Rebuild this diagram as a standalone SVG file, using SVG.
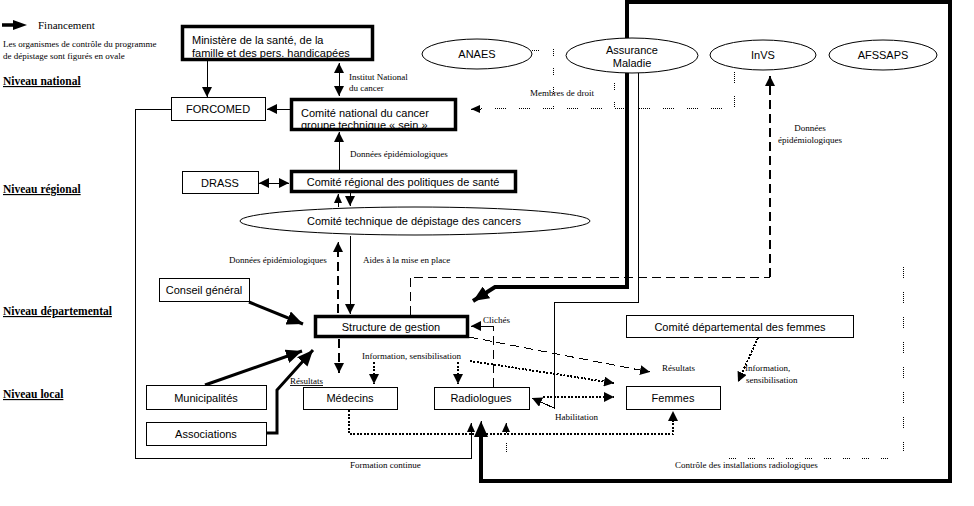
<svg xmlns="http://www.w3.org/2000/svg" width="974" height="506" viewBox="0 0 974 506">
<style>
.box{fill:#fff;stroke:#000;stroke-width:1}
.tbox{fill:#fff;stroke:#000;stroke-width:3.5}
.ell{fill:#fff;stroke:#000;stroke-width:1}
.sans{font-family:"Liberation Sans",Arial,sans-serif;font-size:11px;fill:#000}
.mid{text-anchor:middle}
.serif{font-family:"Liberation Serif","Times New Roman",serif;font-size:9px;fill:#000}
.lvl{font-family:"Liberation Serif","Times New Roman",serif;font-size:11.5px;font-weight:bold;text-decoration:underline;fill:#000}
.ln{fill:none;stroke:#000;stroke-width:1;shape-rendering:crispEdges}
.thick{fill:none;stroke:#000;stroke-width:4}
.dash{fill:none;stroke:#000;stroke-width:1;stroke-dasharray:9 5;shape-rendering:crispEdges}
.dash2{fill:none;stroke:#000;stroke-width:2;stroke-dasharray:9 5;shape-rendering:crispEdges}
.dot{fill:none;stroke:#000;stroke-width:2;stroke-dasharray:2 1.5;shape-rendering:crispEdges}
.tdot{fill:none;stroke:#000;stroke-width:1;stroke-dasharray:1 1 1 1 1 1 1 1 1 1 1 13;shape-rendering:crispEdges}
.vdot{fill:none;stroke:#000;stroke-width:1;stroke-dasharray:1 1 1 1 1 1 1 12;shape-rendering:crispEdges}
</style>
<defs>
<marker id="a" markerUnits="userSpaceOnUse" markerWidth="10" markerHeight="10" refX="10" refY="5" orient="auto-start-reverse" viewBox="0 0 10 10"><path d="M0,0 L10,5 L0,10 z" fill="#000"/></marker>
<marker id="s" markerUnits="userSpaceOnUse" markerWidth="9" markerHeight="8" refX="9" refY="4" orient="auto-start-reverse" viewBox="0 0 9 8"><path d="M0,0 L9,4 L0,8 z" fill="#000"/></marker>
<marker id="b" markerUnits="userSpaceOnUse" markerWidth="16" markerHeight="14" refX="16" refY="7" orient="auto" viewBox="0 0 16 14"><path d="M0,0 L16,7 L0,14 z" fill="#000"/></marker>
</defs>
<rect width="974" height="506" fill="#fff"/>

<g id="legend">
<path d="M2 25 H15" stroke="#000" stroke-width="3.5"/>
<polygon points="13,20 27,25 13,30" fill="#000"/>
<text class="serif" x="38" y="29" style="font-size:11px">Financement</text>
<text class="serif" x="3" y="47">Les organismes de contrôle du programme</text>
<text class="serif" x="3" y="59">de dépistage sont figurés en ovale</text>
</g>

<g id="levels">
<text class="lvl" x="3" y="85">Niveau national</text>
<text class="lvl" x="3" y="193">Niveau régional</text>
<text class="lvl" x="3" y="315">Niveau départemental</text>
<text class="lvl" x="3" y="398">Niveau local</text>
</g>

<g id="connectors">
<path class="ln" d="M207 61 V97" marker-end="url(#a)"/>
<path class="ln" d="M339 63 V96" marker-start="url(#a)" marker-end="url(#a)"/>
<path class="ln" d="M290 109 H267" marker-end="url(#a)"/>
<path class="ln" d="M339 170 V132" marker-end="url(#a)"/>
<path class="ln" d="M259 183 H289" marker-start="url(#a)" marker-end="url(#a)"/>
<path class="ln" d="M338 207 V194" marker-end="url(#s)"/>
<path class="ln" d="M350 193 V206" marker-end="url(#a)"/>
<path class="dash2" d="M338 313 V252"/>
<path class="ln" d="M338 252 V242" marker-end="url(#a)"/>
<path class="ln" d="M350 236 V314" marker-end="url(#a)"/>
<path class="thick" style="stroke-width:3" d="M249 302 L303 324" marker-end="url(#b)"/>
<path class="thick" style="stroke-width:3" d="M205 385 L302 351" marker-end="url(#b)"/>
<path class="thick" style="stroke-width:3" d="M266 433 H277 V390 L313 350" marker-end="url(#b)"/>
<path class="dash2" d="M339 339 V373" marker-end="url(#a)"/>
<path class="dot" d="M374 362 V384" marker-end="url(#a)"/>
<path class="dot" d="M458 362 V384" marker-end="url(#a)"/>
<path class="dot" d="M470 361 L614 383" marker-end="url(#a)"/>
<path class="dot" d="M543 397 H614" marker-end="url(#a)"/>
<path class="dash" d="M469 337 L650 372" marker-end="url(#a)"/>
<path class="dash" d="M493 387 V326"/>
<path class="ln" d="M493 326 H471" marker-end="url(#a)"/>
<path class="ln" d="M638 73 V302 H554 V408 L532 398" marker-end="url(#a)"/>
<path class="thick" d="M627 73 V287 H495 L473 301" marker-end="url(#b)"/>
<path class="thick" d="M627 38 V2 H950 V481 H481 V436"/>
<path class="ln" d="M481 436 V421" marker-end="url(#b)"/>
<path class="dash" d="M410 315 V277 H770"/>
<path class="dash" style="stroke-width:2.5" d="M770 277 V76" marker-end="url(#a)"/>
<path class="ln" d="M171 109 H135 V458 H471 V423" marker-end="url(#s)"/>
<path class="dot" d="M349 410 V434 H673 V411" marker-end="url(#a)"/>
<path class="ln" style="stroke-dasharray:1 1" d="M506 452 V443"/>
<path class="ln" d="M506 433 V423" marker-end="url(#s)"/>
<path class="dot" d="M758 338 L738 382" marker-end="url(#a)"/>
<path class="tdot" d="M734 72 V108 H480"/>
<path class="ln" d="M481 109 H471" marker-end="url(#s)"/>
<path class="vdot" d="M532 50 H541"/>
<path class="vdot" d="M553 49 V108"/>
<path class="vdot" d="M614 83 V108"/>
<path class="ln" style="stroke-dasharray:1 1 1 1 1 1 1 1 1 1 1 14" d="M903 267 V452"/>
<path class="ln" style="stroke-dasharray:1 1 1 1 1 1 1 12" d="M888 458 H718"/>
</g>

<g id="labels">
<text class="serif" x="349" y="80">Institut National</text>
<text class="serif" x="349" y="91">du cancer</text>
<text class="serif" x="530" y="96">Membres de droit</text>
<text class="serif mid" x="810" y="131">Données</text>
<text class="serif mid" x="810" y="143">épidémiologiques</text>
<text class="serif" x="350" y="157">Données épidémiologiques</text>
<text class="serif" x="229" y="263">Données épidémiologiques</text>
<text class="serif" x="363" y="263">Aides à la mise en place</text>
<text class="serif" x="483" y="323">Clichés</text>
<text class="serif" x="362" y="359">Information, sensibilisation</text>
<text class="serif" x="290" y="384" style="text-decoration:underline">Résultats</text>
<text class="serif" x="662" y="371">Résultats</text>
<text class="serif" x="745" y="371">Information,</text>
<text class="serif" x="746" y="383">sensibilisation</text>
<text class="serif" x="555" y="420">Habilitation</text>
<text class="serif" x="350" y="468">Formation continue</text>
<text class="serif" x="675" y="468">Contrôle des installations radiologiques</text>
</g>

<g id="ministere">
<rect class="tbox" x="182.5" y="26.5" width="190" height="33"/>
<text class="sans" x="192" y="44">Ministère de la santé, de la</text>
<text class="sans" x="192" y="57">famille et des pers. handicapées</text>
</g>
<g id="forcomed">
<rect class="box" x="171.5" y="97.5" width="94" height="23"/>
<text class="sans mid" x="218" y="113">FORCOMED</text>
</g>
<g id="comite-national">
<rect class="tbox" x="291.5" y="99.5" width="164" height="30"/>
<text class="sans" x="301" y="117">Comité national du cancer</text>
<text class="sans" x="301" y="129">groupe technique « sein »</text>
</g>
<g id="anaes">
<ellipse class="ell" cx="477" cy="54" rx="55" ry="15"/>
<text class="sans mid" x="477" y="58">ANAES</text>
</g>
<g id="assurance-maladie">
<ellipse class="ell" cx="632" cy="55.5" rx="66" ry="17.5"/>
<text class="sans mid" x="632" y="54">Assurance</text>
<text class="sans mid" x="632" y="67">Maladie</text>
</g>
<g id="invs">
<ellipse class="ell" cx="763" cy="55" rx="53" ry="15"/>
<text class="sans mid" x="763" y="59">InVS</text>
</g>
<g id="afssaps">
<ellipse class="ell" cx="883" cy="55" rx="54" ry="15"/>
<text class="sans mid" x="883" y="59">AFSSAPS</text>
</g>
<g id="drass">
<rect class="box" x="182.5" y="171.5" width="76" height="22"/>
<text class="sans mid" x="220" y="187">DRASS</text>
</g>
<g id="comite-regional">
<rect class="tbox" x="291.5" y="171.5" width="224" height="20"/>
<text class="sans mid" x="403" y="186">Comité régional des politiques de santé</text>
</g>
<g id="comite-technique">
<ellipse class="ell" cx="415" cy="221" rx="175" ry="14"/>
<text class="sans mid" x="414" y="225">Comité technique de dépistage des cancers</text>
</g>
<g id="conseil-general">
<rect class="box" x="159.5" y="278.5" width="90" height="23"/>
<text class="sans mid" x="204" y="294">Conseil général</text>
</g>
<g id="structure-gestion">
<rect class="tbox" x="315.5" y="316.5" width="152" height="20"/>
<text class="sans mid" x="391" y="331">Structure de gestion</text>
</g>
<g id="comite-departemental">
<rect class="box" x="626.5" y="315.5" width="227" height="22"/>
<text class="sans mid" x="740" y="331">Comité départemental des femmes</text>
</g>
<g id="municipalites">
<rect class="box" x="146.5" y="385.5" width="120" height="24"/>
<text class="sans mid" x="206" y="402">Municipalités</text>
</g>
<g id="associations">
<rect class="box" x="146.5" y="422.5" width="120" height="23"/>
<text class="sans mid" x="206" y="438">Associations</text>
</g>
<g id="medecins">
<rect class="box" x="303.5" y="387.5" width="94" height="22"/>
<text class="sans mid" x="350" y="402">Médecins</text>
</g>
<g id="radiologues">
<rect class="box" x="434.5" y="387.5" width="95" height="22"/>
<text class="sans mid" x="481" y="402">Radiologues</text>
</g>
<g id="femmes">
<rect class="box" x="626.5" y="386.5" width="94" height="23"/>
<text class="sans mid" x="673" y="402">Femmes</text>
</g>
</svg>
